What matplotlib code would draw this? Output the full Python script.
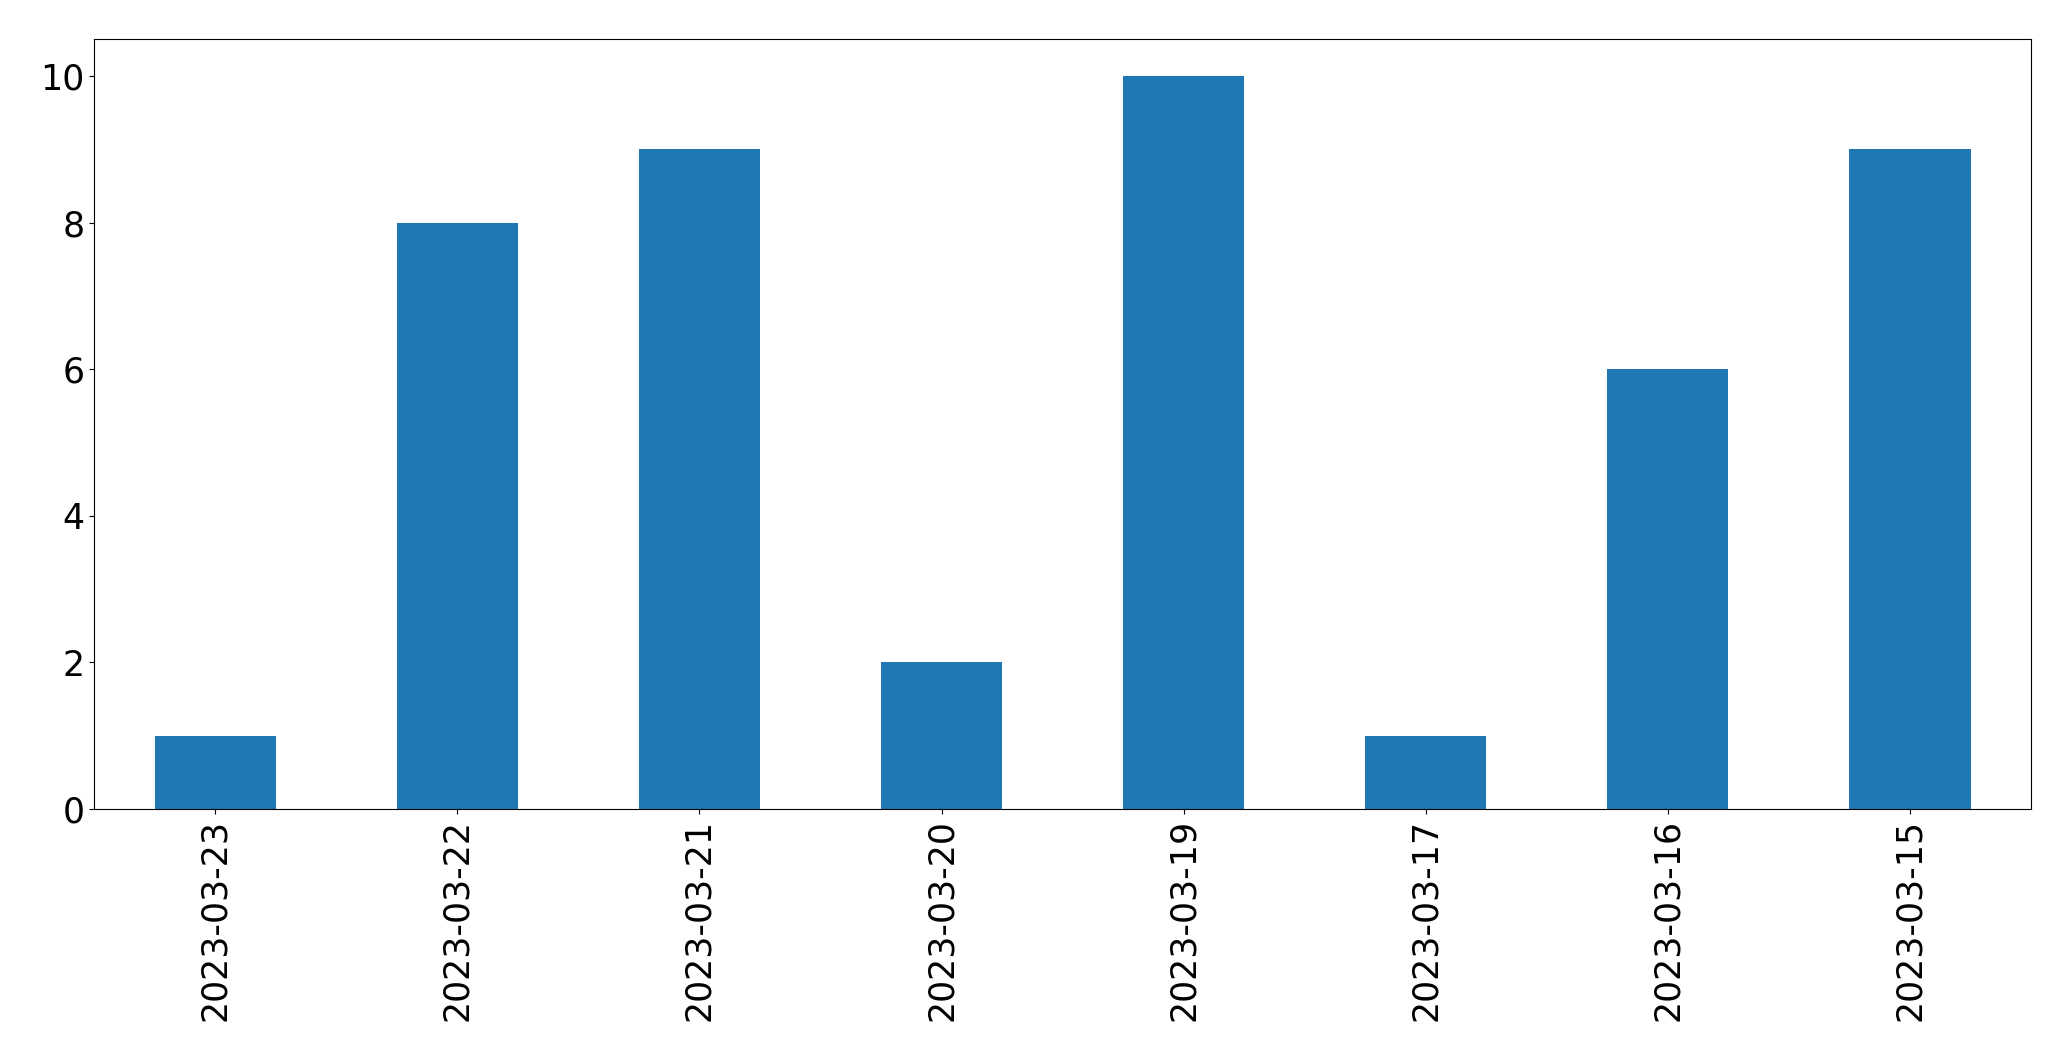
import matplotlib
matplotlib.use("Agg")
import matplotlib.pyplot as plt
import pandas as pd

dates = ["2023-03-23", "2023-03-22", "2023-03-21", "2023-03-20",
         "2023-03-19", "2023-03-17", "2023-03-16", "2023-03-15"]
counts = [1, 8, 9, 2, 10, 1, 6, 9]

plt.rcParams["font.size"] = 25
fig, ax = plt.subplots(figsize=(20.71, 10.61), dpi=100)
s = pd.Series(counts, index=dates)
s.plot(kind="bar", ax=ax, color="#1f77b4")
ax.set_xlabel("")
fig.subplots_adjust(left=0.0455, right=0.9807, top=0.963, bottom=0.2375)
fig.savefig("out.png", dpi=100)
